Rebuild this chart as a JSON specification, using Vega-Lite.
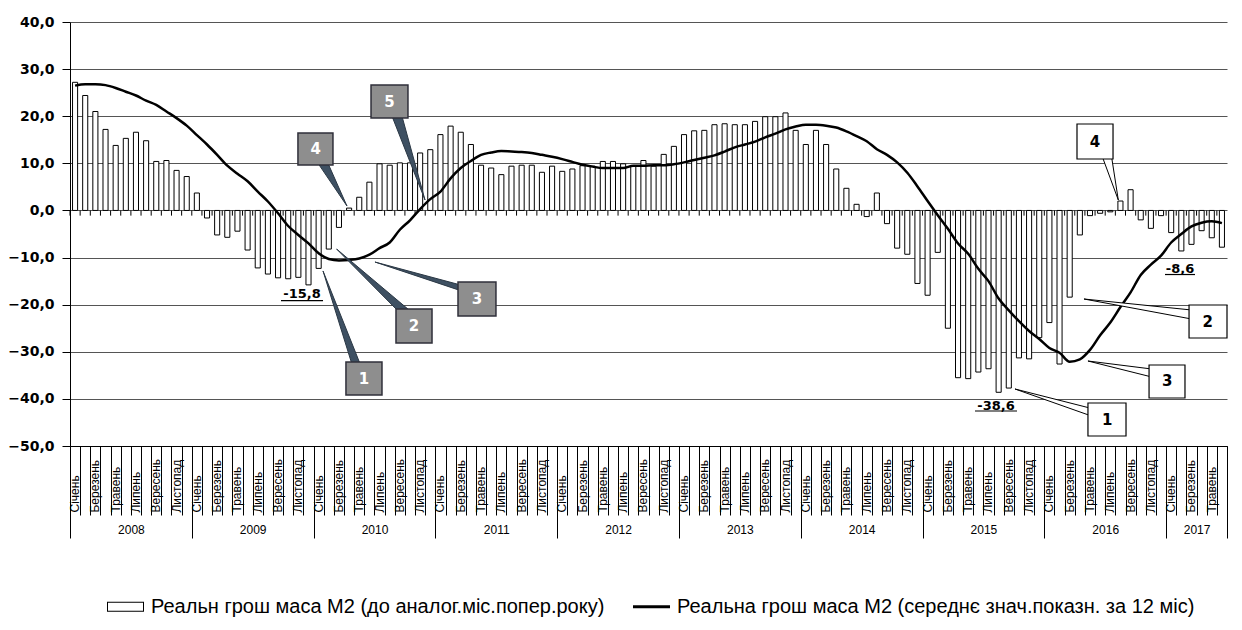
{
  "$schema": "https://vega.github.io/schema/vega-lite/v6.json",
  "width": 1157,
  "height": 424,
  "autosize": "none",
  "padding": {"left": 70, "top": 22, "right": 15, "bottom": 184},
  "background": "white",
  "config": {"view": {"stroke": null}, "font": "Liberation Sans"},
  "datasets": {
    "m2": [
      {"m":"2008-01","b":27.2,"a":26.5},{"m":"2008-02","b":24.4,"a":26.8},{"m":"2008-03","b":21.0,"a":26.8},{"m":"2008-04","b":17.2,"a":26.6},{"m":"2008-05","b":13.8,"a":26.0},{"m":"2008-06","b":15.3,"a":25.2},{"m":"2008-07","b":16.6,"a":24.4},{"m":"2008-08","b":14.8,"a":23.3},{"m":"2008-09","b":10.4,"a":22.4},{"m":"2008-10","b":10.6,"a":21.0},{"m":"2008-11","b":8.5,"a":19.6},{"m":"2008-12","b":7.2,"a":18.0},
      {"m":"2009-01","b":3.7,"a":16.0},{"m":"2009-02","b":-1.6,"a":14.0},{"m":"2009-03","b":-5.2,"a":11.8},{"m":"2009-04","b":-5.7,"a":9.5},{"m":"2009-05","b":-4.4,"a":7.8},{"m":"2009-06","b":-8.4,"a":6.2},{"m":"2009-07","b":-12.2,"a":4.0},{"m":"2009-08","b":-13.5,"a":1.9},{"m":"2009-09","b":-14.3,"a":-0.6},{"m":"2009-10","b":-14.5,"a":-3.3},{"m":"2009-11","b":-14.2,"a":-5.2},{"m":"2009-12","b":-15.8,"a":-7.0},
      {"m":"2010-01","b":-12.3,"a":-9.1},{"m":"2010-02","b":-8.2,"a":-10.3},{"m":"2010-03","b":-3.6,"a":-10.6},{"m":"2010-04","b":0.5,"a":-10.5},{"m":"2010-05","b":2.8,"a":-10.2},{"m":"2010-06","b":6.0,"a":-9.4},{"m":"2010-07","b":9.9,"a":-8.0},{"m":"2010-08","b":9.6,"a":-6.8},{"m":"2010-09","b":10.1,"a":-4.1},{"m":"2010-10","b":10.1,"a":-2.1},{"m":"2010-11","b":12.2,"a":0.3},{"m":"2010-12","b":12.9,"a":2.4},
      {"m":"2011-01","b":16.1,"a":4.0},{"m":"2011-02","b":17.9,"a":6.8},{"m":"2011-03","b":16.6,"a":9.0},{"m":"2011-04","b":14.0,"a":10.5},{"m":"2011-05","b":9.6,"a":11.8},{"m":"2011-06","b":9.0,"a":12.3},{"m":"2011-07","b":7.6,"a":12.6},{"m":"2011-08","b":9.4,"a":12.5},{"m":"2011-09","b":9.6,"a":12.4},{"m":"2011-10","b":9.6,"a":12.2},{"m":"2011-11","b":8.1,"a":11.8},{"m":"2011-12","b":9.4,"a":11.4},
      {"m":"2012-01","b":8.3,"a":10.9},{"m":"2012-02","b":8.8,"a":10.3},{"m":"2012-03","b":9.5,"a":9.7},{"m":"2012-04","b":9.4,"a":9.3},{"m":"2012-05","b":10.4,"a":9.0},{"m":"2012-06","b":10.4,"a":9.0},{"m":"2012-07","b":9.9,"a":9.0},{"m":"2012-08","b":9.4,"a":9.5},{"m":"2012-09","b":10.6,"a":9.5},{"m":"2012-10","b":9.4,"a":9.6},{"m":"2012-11","b":11.9,"a":9.6},{"m":"2012-12","b":13.6,"a":9.8},
      {"m":"2013-01","b":16.1,"a":10.2},{"m":"2013-02","b":16.9,"a":10.7},{"m":"2013-03","b":17.0,"a":11.2},{"m":"2013-04","b":18.2,"a":11.7},{"m":"2013-05","b":18.4,"a":12.5},{"m":"2013-06","b":18.2,"a":13.4},{"m":"2013-07","b":18.2,"a":14.0},{"m":"2013-08","b":18.9,"a":14.6},{"m":"2013-09","b":19.9,"a":15.5},{"m":"2013-10","b":19.9,"a":16.3},{"m":"2013-11","b":20.7,"a":17.2},{"m":"2013-12","b":17.0,"a":17.8},
      {"m":"2014-01","b":14.0,"a":18.2},{"m":"2014-02","b":17.0,"a":18.2},{"m":"2014-03","b":14.0,"a":18.0},{"m":"2014-04","b":8.8,"a":17.6},{"m":"2014-05","b":4.7,"a":16.8},{"m":"2014-06","b":1.3,"a":15.8},{"m":"2014-07","b":-1.3,"a":14.7},{"m":"2014-08","b":3.7,"a":13.0},{"m":"2014-09","b":-2.8,"a":11.8},{"m":"2014-10","b":-8.0,"a":10.2},{"m":"2014-11","b":-9.3,"a":8.0},{"m":"2014-12","b":-15.5,"a":5.1},
      {"m":"2015-01","b":-18.0,"a":2.0},{"m":"2015-02","b":-8.9,"a":-1.0},{"m":"2015-03","b":-25.0,"a":-3.9},{"m":"2015-04","b":-35.5,"a":-7.0},{"m":"2015-05","b":-35.7,"a":-9.2},{"m":"2015-06","b":-34.3,"a":-12.4},{"m":"2015-07","b":-33.6,"a":-15.0},{"m":"2015-08","b":-38.6,"a":-18.7},{"m":"2015-09","b":-37.7,"a":-21.2},{"m":"2015-10","b":-31.3,"a":-23.5},{"m":"2015-11","b":-31.5,"a":-25.6},{"m":"2015-12","b":-27.0,"a":-27.3},
      {"m":"2016-01","b":-23.8,"a":-29.2},{"m":"2016-02","b":-32.6,"a":-30.2},{"m":"2016-03","b":-18.4,"a":-32.1},{"m":"2016-04","b":-5.2,"a":-31.6},{"m":"2016-05","b":-1.1,"a":-29.6},{"m":"2016-06","b":-0.6,"a":-26.5},{"m":"2016-07","b":-0.3,"a":-23.8},{"m":"2016-08","b":2.0,"a":-20.5},{"m":"2016-09","b":4.4,"a":-17.4},{"m":"2016-10","b":-2.0,"a":-13.7},{"m":"2016-11","b":-3.8,"a":-11.5},{"m":"2016-12","b":-1.1,"a":-9.6},
      {"m":"2017-01","b":-4.7,"a":-6.8},{"m":"2017-02","b":-8.6,"a":-5.0},{"m":"2017-03","b":-7.2,"a":-3.4},{"m":"2017-04","b":-4.3,"a":-2.6},{"m":"2017-05","b":-5.8,"a":-2.3},{"m":"2017-06","b":-7.8,"a":-2.7}
    ],
    "boxes": [
      {"id":"g4","k":"g","n":"4","t1":22.46,"t2":25.91,"v1":16.44,"v2":9.65,"tc":24.2,"vc":13.05},
      {"id":"g5","k":"g","n":"5","t1":29.66,"t2":33.3,"v1":26.63,"v2":19.62,"tc":31.48,"vc":23.1},
      {"id":"g1","k":"g","n":"1","t1":27.19,"t2":30.74,"v1":-32.17,"v2":-39.18,"tc":28.97,"vc":-35.7},
      {"id":"g2","k":"g","n":"2","t1":32.12,"t2":35.67,"v1":-20.92,"v2":-28.14,"tc":33.9,"vc":-24.5},
      {"id":"g3","k":"g","n":"3","t1":38.23,"t2":41.97,"v1":-15.19,"v2":-22.41,"tc":40.1,"vc":-18.8},
      {"id":"w4","k":"w","n":"4","t1":99.22,"t2":102.77,"v1":18.35,"v2":10.92,"tc":101.0,"vc":14.6},
      {"id":"w2","k":"w","n":"2","t1":110.26,"t2":114.0,"v1":-20.07,"v2":-27.08,"tc":112.1,"vc":-23.6},
      {"id":"w3","k":"w","n":"3","t1":106.32,"t2":109.86,"v1":-32.81,"v2":-39.81,"tc":108.1,"vc":-36.3},
      {"id":"w1","k":"w","n":"1","t1":100.3,"t2":104.05,"v1":-40.87,"v2":-47.88,"tc":102.2,"vc":-44.4}
    ],
    "wedges": [
      {"id":"g4","k":"g","o":1,"t":24.44,"v":10.0},{"id":"g4","k":"g","o":2,"t":27.29,"v":0.94},{"id":"g4","k":"g","o":3,"t":25.42,"v":10.0},
      {"id":"g5","k":"g","o":1,"t":31.73,"v":20.0},{"id":"g5","k":"g","o":2,"t":34.98,"v":2.22},{"id":"g5","k":"g","o":3,"t":32.71,"v":20.0},
      {"id":"g1","k":"g","o":1,"t":27.76,"v":-32.5},{"id":"g1","k":"g","o":2,"t":24.93,"v":-12.85},{"id":"g1","k":"g","o":3,"t":28.57,"v":-32.5},
      {"id":"g2","k":"g","o":1,"t":32.3,"v":-21.3},{"id":"g2","k":"g","o":2,"t":26.27,"v":-8.19},{"id":"g2","k":"g","o":3,"t":33.5,"v":-21.3},
      {"id":"g3","k":"g","o":1,"t":38.5,"v":-15.83},{"id":"g3","k":"g","o":2,"t":30.05,"v":-10.95},{"id":"g3","k":"g","o":3,"t":38.5,"v":-17.03},
      {"id":"w4","k":"w","o":1,"t":101.75,"v":11.2},{"id":"w4","k":"w","o":2,"t":103.29,"v":2.22},{"id":"w4","k":"w","o":3,"t":102.64,"v":11.2},
      {"id":"w2","k":"w","o":1,"t":110.5,"v":-21.13},{"id":"w2","k":"w","o":2,"t":99.91,"v":-18.8},{"id":"w2","k":"w","o":3,"t":110.5,"v":-23.04},
      {"id":"w3","k":"w","o":1,"t":106.6,"v":-33.66},{"id":"w3","k":"w","o":2,"t":100.3,"v":-31.96},{"id":"w3","k":"w","o":3,"t":106.6,"v":-35.36},
      {"id":"w1","k":"w","o":1,"t":100.6,"v":-42.0},{"id":"w1","k":"w","o":2,"t":93.11,"v":-37.9},{"id":"w1","k":"w","o":3,"t":100.6,"v":-43.6}
    ],
    "vlabels": [
      {"s":"-15,8","t":22.86,"v":-17.74,"u1":20.79,"u2":24.93,"uv":-19.16},
      {"s":"-38,6","t":91.24,"v":-41.51,"u1":89.17,"u2":93.31,"uv":-42.57},
      {"s":"-8,6","t":109.37,"v":-12.43,"u1":107.89,"u2":110.85,"uv":-13.6}
    ],
    "legend": [
      {"s":"Реальн грош маса М2 (до аналог.міс.попер.року)"},
      {"s":"Реальна грош маса М2 (середнє знач.показн. за 12 міс)"}
    ]
  },
  "layer": [
    {
      "data": {"name": "m2"},
      "mark": {"type": "bar", "fill": "white", "stroke": "black", "strokeWidth": 1, "width": {"band": 0.5}},
      "encoding": {
        "x": {
          "field": "m", "type": "ordinal",
          "scale": {"type": "band", "paddingInner": 0, "paddingOuter": 0},
          "axis": {
            "orient": "bottom", "title": null, "ticks": false,
            "domainColor": "black", "grid": false,
            "labelAngle": 270, "labelAlign": "left", "labelBaseline": "middle",
            "labelPadding": 66, "labelFont": "Liberation Sans", "labelFontSize": 12,
            "labelColor": "black", "labelOverlap": false,
            "labelExpr": "['Січень','','Березень','','Травень','','Липень','','Вересень','','Листопад',''][toNumber(slice(datum.value,5))-1]"
          }
        },
        "y": {
          "field": "b", "type": "quantitative",
          "scale": {"domain": [-50, 40], "nice": false},
          "axis": {
            "orient": "left", "title": null, "values": [-50,-40,-30,-20,-10,0,10,20,30,40],
            "grid": true, "gridColor": "#555555",
            "tickSize": 8, "tickColor": "black", "domainColor": "black", "labelPadding": 8,
            "labelFont": "DejaVu Sans", "labelFontWeight": "bold", "labelFontSize": 14, "labelColor": "black",
            "labelExpr": "replace(format(datum.value, '.1f'), '.', ',')"
          }
        }
      }
    },
    {
      "data": {"name": "m2"},
      "mark": {"type": "rule", "color": "black", "strokeWidth": 1},
      "encoding": {
        "x": {
          "field": "m", "type": "ordinal", "bandPosition": 0,
          "scale": {"type": "band", "paddingInner": 0, "paddingOuter": 0},
          "axis": null
        },
        "y": {"datum": 0, "type": "quantitative", "axis": null},
        "y2": {"datum": -1.1}
      }
    },
    {
      "data": {"name": "m2"},
      "mark": {"type": "line", "color": "black", "strokeWidth": 2.5, "interpolate": "monotone"},
      "encoding": {
        "x": {
          "field": "m", "type": "ordinal",
          "scale": {"type": "band", "paddingInner": 0, "paddingOuter": 0},
          "axis": null
        },
        "y": {"field": "a", "type": "quantitative", "axis": null}
      }
    },
    {
      "data": {"name": "wedges"},
      "transform": [{"filter": "datum.k == 'g'"}],
      "mark": {"type": "line", "fill": "#3e5062", "stroke": "#2a3744", "strokeWidth": 1},
      "encoding": {
        "x": {
          "field": "t", "type": "quantitative",
          "scale": {"domain": [0, 114], "nice": false, "zero": false},
          "axis": {
            "orient": "bottom", "title": null, "values": [0,12,24,36,48,60,72,84,96,108,114],
            "tickSize": 92, "tickColor": "black", "labels": false, "domain": false, "grid": false
          }
        },
        "y": {"field": "v", "type": "quantitative", "axis": null},
        "detail": {"field": "id"},
        "order": {"field": "o"}
      }
    },
    {
      "data": {"name": "wedges"},
      "transform": [{"filter": "datum.k == 'w'"}],
      "mark": {"type": "line", "fill": "white", "stroke": "black", "strokeWidth": 1},
      "encoding": {
        "x": {"field": "t", "type": "quantitative", "scale": {"domain": [0, 114], "nice": false, "zero": false}, "axis": null},
        "y": {"field": "v", "type": "quantitative", "axis": null},
        "detail": {"field": "id"},
        "order": {"field": "o"}
      }
    },
    {
      "data": {"name": "boxes"},
      "transform": [{"filter": "datum.k == 'g'"}],
      "mark": {"type": "rect", "fill": "#8e8e8e", "stroke": "#2f2f3a", "strokeWidth": 1.5},
      "encoding": {
        "x": {
          "field": "t1", "type": "quantitative",
          "scale": {"domain": [0, 114], "nice": false, "zero": false},
          "axis": {
            "orient": "bottom", "title": null,
            "values": [0,1,2,3,4,5,6,7,8,9,10,11,12,13,14,15,16,17,18,19,20,21,22,23,24,25,26,27,28,29,30,31,32,33,34,35,36,37,38,39,40,41,42,43,44,45,46,47,48,49,50,51,52,53,54,55,56,57,58,59,60,61,62,63,64,65,66,67,68,69,70,71,72,73,74,75,76,77,78,79,80,81,82,83,84,85,86,87,88,89,90,91,92,93,94,95,96,97,98,99,100,101,102,103,104,105,106,107,108,109,110,111,112,113,114],
            "tickSize": 69, "tickColor": "black", "labels": false, "domain": false, "grid": false
          }
        },
        "x2": {"field": "t2"},
        "y": {"field": "v1", "type": "quantitative", "axis": null},
        "y2": {"field": "v2"}
      }
    },
    {
      "data": {"name": "boxes"},
      "transform": [{"filter": "datum.k == 'w'"}],
      "mark": {"type": "rect", "fill": "white", "stroke": "black", "strokeWidth": 1.2},
      "encoding": {
        "x": {"field": "t1", "type": "quantitative", "scale": {"domain": [0, 114], "nice": false, "zero": false}, "axis": null},
        "x2": {"field": "t2"},
        "y": {"field": "v1", "type": "quantitative", "axis": null},
        "y2": {"field": "v2"}
      }
    },
    {
      "data": {"name": "boxes"},
      "transform": [{"filter": "datum.k == 'g'"}],
      "mark": {"type": "text", "font": "DejaVu Sans", "fontWeight": "bold", "fontSize": 15, "color": "white"},
      "encoding": {
        "x": {"field": "tc", "type": "quantitative", "scale": {"domain": [0, 114], "nice": false, "zero": false}, "axis": null},
        "y": {"field": "vc", "type": "quantitative", "axis": null},
        "text": {"field": "n"}
      }
    },
    {
      "data": {"name": "boxes"},
      "transform": [{"filter": "datum.k == 'w'"}],
      "mark": {"type": "text", "font": "DejaVu Sans", "fontWeight": "bold", "fontSize": 15, "color": "black"},
      "encoding": {
        "x": {"field": "tc", "type": "quantitative", "scale": {"domain": [0, 114], "nice": false, "zero": false}, "axis": null},
        "y": {"field": "vc", "type": "quantitative", "axis": null},
        "text": {"field": "n"}
      }
    },
    {
      "data": {"name": "vlabels"},
      "mark": {"type": "text", "font": "DejaVu Sans", "fontWeight": "bold", "fontSize": 13, "color": "black"},
      "encoding": {
        "x": {
          "field": "t", "type": "quantitative",
          "scale": {"domain": [0, 114], "nice": false, "zero": false},
          "axis": {
            "orient": "bottom", "title": null, "values": [6,18,30,42,54,66,78,90,102,111],
            "labelExpr": "datum.value == 111 ? '2017' : toString(2008 + floor(datum.value / 12))",
            "ticks": false, "domain": false, "grid": false, "labelPadding": 78,
            "labelFont": "Liberation Sans", "labelFontSize": 12, "labelColor": "black",
            "labelFlush": false, "labelOverlap": false
          }
        },
        "y": {"field": "v", "type": "quantitative", "axis": null},
        "text": {"field": "s"}
      }
    },
    {
      "data": {"name": "vlabels"},
      "mark": {"type": "rule", "color": "black", "strokeWidth": 1.2},
      "encoding": {
        "x": {"field": "u1", "type": "quantitative", "scale": {"domain": [0, 114], "nice": false, "zero": false}, "axis": null},
        "x2": {"field": "u2"},
        "y": {"field": "uv", "type": "quantitative", "axis": null}
      }
    },
    {
      "data": {"name": "legend"},
      "mark": {"type": "point", "filled": true, "size": 0, "color": "black"},
      "encoding": {
        "shape": {
          "field": "s", "type": "nominal",
          "scale": {"domain": ["Реальн грош маса М2 (до аналог.міс.попер.року)", "Реальна грош маса М2 (середнє знач.показн. за 12 міс)"], "range": ["M-1,-0.27H1V0.27H-1Z M-0.946,-0.216V0.216H0.946V-0.216Z", "M-1,-0.08H1V0.08H-1Z"]},
          "legend": {
            "orient": "none", "legendX": 37, "legendY": 566, "direction": "horizontal",
            "title": null, "symbolSize": 1369, "labelFont": "Liberation Sans Narrow, Liberation Sans",
            "labelFontSize": 20, "labelColor": "black", "labelLimit": 1000,
            "labelOffset": 7, "columnPadding": 28, "padding": 0,
            "symbolOpacity": 1, "symbolFillColor": "black", "symbolStrokeWidth": 0
          }
        }
      }
    }
  ],
  "resolve": {"scale": {"x": "independent"}, "axis": {"y": "independent"}}
}
